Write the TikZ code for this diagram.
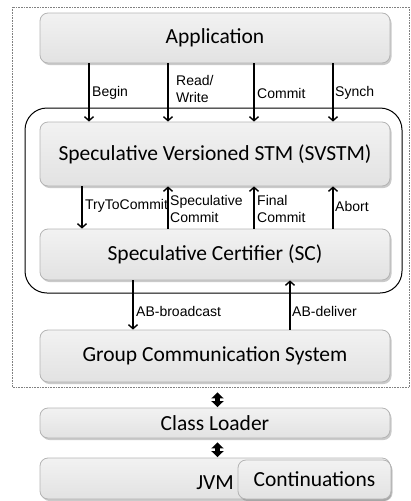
\documentclass[tikz,border=0pt]{standalone}
\usepackage{fontspec}
\setmainfont{Carlito}
\newfontfamily\labfont{Liberation Sans}
\usetikzlibrary{arrows.meta,shadows,calc}
\definecolor{boxborder}{HTML}{B4B4B4}
\definecolor{boxtop}{HTML}{F2F2F2}
\definecolor{boxbot}{HTML}{E2E2E2}
\begin{document}
\begin{tikzpicture}[x=1pt,y=-1pt,
  layer/.style={draw=boxborder,line width=0.8pt,rounded corners=8pt,top color=boxtop,bottom color=boxbot,
    drop shadow={shadow xshift=1.5pt,shadow yshift=-2pt,opacity=0.35,fill=black!60},
    font=\fontsize{21.5}{24}\selectfont,inner sep=0pt},
  arr/.style={line width=1.4pt,-{Straight Barb[length=4pt,width=9pt,line width=1.4pt]}},
  lab/.style={font=\labfont\fontsize{14}{17}\selectfont,anchor=west,inner sep=0pt,align=left},
  dbl/.style={line width=4.5pt,{Triangle[length=6pt 0 0,width=12pt 0 0]}-{Triangle[length=6pt 0 0,width=12pt 0 0]}}]
\useasboundingbox (0,0) rectangle (410,501);
% dotted frame
\draw[densely dotted,gray,line width=0.6pt] (12,7) rectangle (409.5,387);
% big rounded frame
\draw[line width=1pt,rounded corners=22pt] (25,108) rectangle (402,293);
% layers
\node[layer,minimum width=350pt,minimum height=50pt] (app) at (215,38) {Application};
\node[layer,minimum width=350pt,minimum height=64pt] (stm) at (215,154) {Speculative Versioned STM (SVSTM)};
\node[layer,minimum width=350pt,minimum height=51pt] (sc) at (215,254.5) {Speculative Certifier (SC)};
\node[layer,minimum width=350pt,minimum height=52pt] (gcs) at (215,356) {Group Communication System};
\node[layer,minimum width=350pt,minimum height=30pt] (cl) at (215,423) {Class Loader};
\node[layer,minimum width=350pt,minimum height=41pt] (jvm) at (215,478.5) {};
\node[layer,minimum width=153pt,minimum height=39pt] (cont) at (314.5,479.5) {Continuations};
\node[font=\fontsize{21.5}{24}\selectfont,anchor=east,inner sep=0pt] (jvmt) at (234,483) {JVM};
% app -> stm
\draw[arr] (89,0 |- app.south) -- (89,0 |- stm.north);
\draw[arr] (168,0 |- app.south) -- (168,0 |- stm.north);
\draw[arr] (254,0 |- app.south) -- (254,0 |- stm.north);
\draw[arr] (333,0 |- app.south) -- (333,0 |- stm.north);
\node[lab] (lbegin) at (92,93) {Begin};
\node[lab] (lrw) at (176,88.5) {Read/\\Write};
\node[lab] (lcommit) at (257,93) {Commit};
\node[lab] (lsynch) at (335,93) {Synch};
% stm <-> sc
\draw[arr] (82,0 |- stm.south) -- (82,0 |- sc.north);
\draw[arr] (168,0 |- sc.north) -- (168,0 |- stm.south);
\draw[arr] (254,0 |- sc.north) -- (254,0 |- stm.south);
\draw[arr] (333,0 |- sc.north) -- (333,0 |- stm.south);
\node[lab] (ltry) at (85,206) {TryToCommit};
\node[lab] (lspec) at (170,209) {Speculative\\Commit};
\node[lab] (lfinal) at (257,209) {Final\\Commit};
\node[lab] (labort) at (335,206) {Abort};
% sc <-> gcs
\draw[arr] (133,0 |- sc.south) -- (133,0 |- gcs.north);
\draw[arr] (290,0 |- gcs.north) -- (290,0 |- sc.south);
\node[lab] (lbc) at (136,311) {AB-broadcast};
\node[lab] (ldel) at (292,311) {AB-deliver};
% double arrows
\coordinate (d1a) at ($(217.5,0 |- gcs.south)+(0,10)$);
\coordinate (d1b) at ($(217.5,0 |- cl.north)+(0,-0.5)$);
\coordinate (d2a) at ($(217.5,0 |- cl.south)+(0,4)$);
\coordinate (d2b) at ($(217.5,0 |- jvm.north)+(0,-0.5)$);
\draw[dbl] (d1a) -- (d1b);
\draw[dbl] (d2a) -- (d2b);
\end{tikzpicture}
\end{document}
